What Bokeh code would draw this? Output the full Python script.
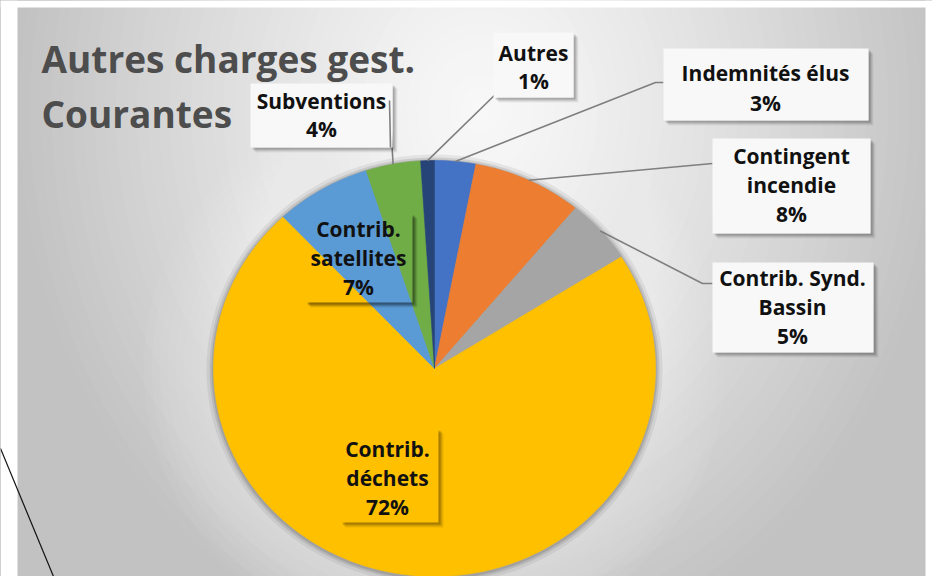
import numpy as np
from bokeh.plotting import figure
from bokeh.models import Range1d, ColumnDataSource
from bokeh.core.properties import value
from bokeh.embed import file_html
from bokeh.resources import INLINE

# ---------------- data ----------------
categories = ["Indemnités élus", "Contingent incendie", "Contrib. Synd. Bassin",
              "Contrib. déchets", "Contrib. satellites", "Subventions", "Autres"]
values = [3, 8, 5, 72, 7, 4, 1]
colors = ["#4472C4", "#ED7D31", "#A5A5A5", "#FFC000", "#5B9BD5", "#70AD47", "#264478"]
label_lines = [["Indemnités élus"], ["Contingent", "incendie"], ["Contrib. Synd.", "Bassin"],
               ["Contrib.", "déchets"], ["Contrib.", "satellites"], ["Subventions"], ["Autres"]]
title_lines = ["Autres charges gest.", "Courantes"]

# ---------------- layout (page pixels) ----------------
W, H = 932, 576
X0, Y0 = 0, 0
CX, CY, RX, RY = 434, 368, 221, 208
FONT = value("Open Sans")

# label boxes: left, right, top, bottom, filled?, text x, first line y, line step
boxes = [
    (663, 868, 48, 120, True, 765, 72, 30),
    (712, 870, 138, 233, True, 791, 155, 29),
    (712, 873, 262, 352, True, 792, 277, 29),
    (340, 438, 428, 522, False, 387, 448, 29),
    (305, 412, 213, 302, False, 358, 228, 29),
    (250, 392, 83, 147, True, 321, 100, 28),
    (493, 573, 32, 97, True, 533, 52, 28),
]
# leader line start/elbow points (None = no leader)
leaders = [
    [(663, 82), (655, 82)],
    [(712, 163)],
    [(712, 283), (702, 283)],
    None,
    None,
    [(389, 100)],
    [(512, 87), (502, 87)],
]

p = figure(width=W, height=H, output_backend="svg", toolbar_location=None,
           x_range=Range1d(X0, X0 + W), y_range=Range1d(Y0 + H, Y0),
           x_axis_type=None, y_axis_type=None, min_border=0)
p.grid.visible = False
p.outline_line_color = None
p.background_fill_color = "white"
p.border_fill_color = "white"

# ---------------- background gradient ----------------
GX, GY, GRX, GRY = 480, 110, 470, 560
ts = np.linspace(1.6, 0.02, 70)
bg_cols = []
for t in ts:
    g = int(round(248 - 54 * min(t, 1.0) ** 1.25))
    bg_cols.append("#%02x%02x%02x" % (g, g, g))
p.ellipse(x=[GX] * len(ts), y=[GY] * len(ts), width=list(2 * GRX * ts), height=list(2 * GRY * ts),
          fill_color=bg_cols, line_color=None)

# light halo + soft shadow around the pie
for k in range(8):
    d = 70 - k * 8
    p.ellipse(x=[CX], y=[CY], width=[2 * (RX + d)], height=[2 * (RY + d)],
              fill_color="white", fill_alpha=0.045, line_color=None)
for d, a in [(7, 0.10), (4, 0.16), (2, 0.22)]:
    p.ellipse(x=[CX], y=[CY + 1], width=[2 * (RX + d)], height=[2 * (RY + d)],
              fill_color="#555555", fill_alpha=a, line_color=None)

# white frame strips of the slide and its diagonal line
p.quad(left=[0], right=[17], top=[0], bottom=[H], fill_color="white", line_color=None)
p.quad(left=[0], right=[W], top=[0], bottom=[7], fill_color="white", line_color=None)
p.quad(left=[925], right=[W], top=[0], bottom=[H], fill_color="white", line_color=None)
p.line(x=[0, 53], y=[448, 576], line_color="#111111", line_width=1.2)

# ---------------- pie slices ----------------
total = float(sum(values))
fr = np.cumsum([0] + values) / total
xs, ys, mids = [], [], []
for i, v in enumerate(values):
    a0, a1 = 2 * np.pi * fr[i], 2 * np.pi * fr[i + 1]
    n = max(4, int(np.degrees(a1 - a0)) + 2)
    th = np.linspace(a0, a1, n)
    xs.append([CX] + list(CX + RX * np.sin(th)))
    ys.append([CY] + list(CY - RY * np.cos(th)))
    mids.append((a0 + a1) / 2)
src = ColumnDataSource(dict(xs=xs, ys=ys, color=colors, cat=categories, val=values))
p.patches(xs="xs", ys="ys", fill_color="color", line_color="color", line_width=0.6, source=src)

# ---------------- leader lines ----------------
for i, pts in enumerate(leaders):
    if pts is None:
        continue
    ex = CX + RX * np.sin(mids[i])
    ey = CY - RY * np.cos(mids[i])
    lx = [q[0] for q in pts] + [ex]
    ly = [q[1] for q in pts] + [ey]
    p.line(x=lx, y=ly, line_color="#7f7f7f", line_width=1.6)

# ---------------- label boxes ----------------
for i, (l, r, t, b, filled, tx, ty, step) in enumerate(boxes):
    sh = "#3a2a00" if i == 3 else "#000000"
    boost = 1.0 if filled else 1.6
    for k, a in [(5, 0.05), (4, 0.07), (3, 0.09), (2, 0.12)]:
        p.quad(left=[r], right=[r + k], top=[t + k], bottom=[b + k],
               fill_color=sh, fill_alpha=a * boost, line_color=None)
        p.quad(left=[l + k], right=[r], top=[b], bottom=[b + k],
               fill_color=sh, fill_alpha=a * boost, line_color=None)
    if filled:
        p.quad(left=[l], right=[r], top=[t], bottom=[b], fill_color="#f8f8f8",
               line_color=None)

# leader of "Subventions" starts inside its box
p.line(x=[leaders[5][0][0], leaders[5][0][0] + 1], y=[leaders[5][0][1], boxes[5][3]],
       line_color="#7f7f7f", line_width=1.6)

# ---------------- label texts ----------------
tx_all, ty_all, tt_all = [], [], []
for i, (l, r, t, b, filled, tx, ty, step) in enumerate(boxes):
    lines = label_lines[i] + ["%d%%" % values[i]]
    for j, s in enumerate(lines):
        tx_all.append(tx)
        ty_all.append(ty + j * step)
        tt_all.append(s)
p.text(x=tx_all, y=ty_all, text=tt_all, text_align="center", text_baseline="middle",
       text_font=FONT, text_font_style="bold", text_font_size="21px", text_color="#111111")

# ---------------- title ----------------
p.text(x=[41, 41], y=[58, 113], text=title_lines, text_align="left",
       text_baseline="alphabetic", text_font=FONT, text_font_style="bold",
       text_font_size="37px", text_color="#4d4d4d")

open("out.html", "w").write(file_html(p, INLINE))
